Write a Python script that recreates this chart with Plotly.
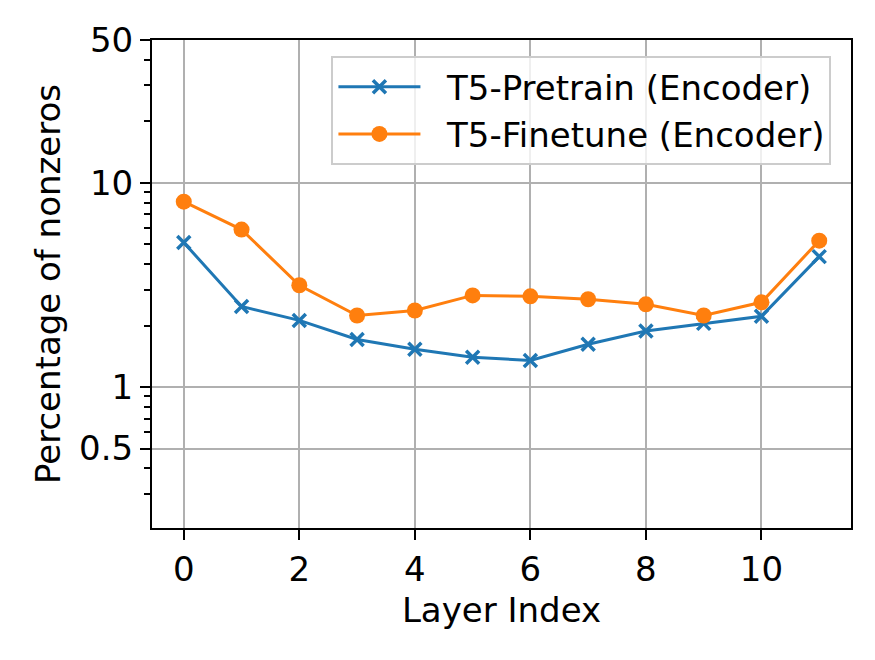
import plotly.graph_objects as go

layers = list(range(12))
pretrain = [5.1, 2.48, 2.12, 1.71, 1.53, 1.40, 1.35, 1.62, 1.88, 2.05, 2.22, 4.35]
finetune = [8.08, 5.90, 3.15, 2.24, 2.37, 2.81, 2.78, 2.69, 2.54, 2.24, 2.60, 5.21]
series_names = ["T5-Pretrain (Encoder)", "T5-Finetune (Encoder)"]
ytick_vals = [0.5, 1, 10, 50]
ytick_text = ["0.5", "1", "10", "50"]
xtick_vals = [0, 2, 4, 6, 8, 10]
minor_vals = [0.2, 0.3, 0.4, 0.6, 0.7, 0.8, 0.9, 2, 3, 4, 5, 6, 7, 8, 9, 20, 30, 40]

pad = "\u00a0\u00a0"
fig = go.Figure()
fig.add_trace(go.Scatter(
    x=layers, y=pretrain, mode="lines+markers", name=pad + series_names[0],
    line=dict(color="#1f77b4", width=3),
    marker=dict(symbol="x-thin", size=13, line=dict(color="#1f77b4", width=3.5), color="#1f77b4"),
))
fig.add_trace(go.Scatter(
    x=layers, y=finetune, mode="lines+markers", name=pad + series_names[1],
    line=dict(color="#ff7f0e", width=3),
    marker=dict(symbol="circle", size=16, color="#ff7f0e"),
))

font = dict(family="DejaVu Sans", size=34, color="black")
fig.update_layout(
    width=875, height=660,
    margin=dict(l=144, r=32, t=30, b=140),
    paper_bgcolor="white", plot_bgcolor="white",
    font=font,
    showlegend=True,
    legend=dict(
        x=0.972, y=0.967, xanchor="right", yanchor="top",
        bgcolor="rgba(255,255,255,0.8)", bordercolor="#cccccc", borderwidth=2,
        font=font,
        itemwidth=82, tracegroupgap=4,
    ),
    xaxis=dict(
        range=[-0.55, 11.55], tickvals=xtick_vals, ticks="outside", ticklen=10, tickwidth=2,
        tickcolor="black", showline=True, linecolor="black", linewidth=2, mirror=True,
        showgrid=True, gridcolor="#b0b0b0", gridwidth=2, zeroline=False,
        title=dict(text="Layer Index", font=font, standoff=10),
        tickfont=font,
    ),
    yaxis=dict(
        type="log", range=[-0.69, 1.699], tickvals=ytick_vals, ticktext=ytick_text,
        ticks="outside", ticklen=10, tickwidth=2, tickcolor="black",
        showline=True, linecolor="black", linewidth=2, mirror=True,
        showgrid=True, gridcolor="#b0b0b0", gridwidth=2, zeroline=False,
        title=dict(text="Percentage of nonzeros", font=font, standoff=8),
        tickfont=font,
        minor=dict(tickvals=minor_vals, ticks="outside", ticklen=6, tickwidth=1.5,
                   tickcolor="black", showgrid=False),
    ),
)

fig.write_html("out.html")
